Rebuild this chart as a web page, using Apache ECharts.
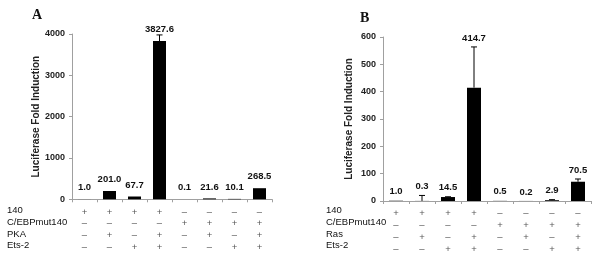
<!DOCTYPE html>
<html><head><meta charset="utf-8">
<script src="https://cdn.jsdelivr.net/npm/echarts@6/dist/echarts.min.js"></script>
<style>html,body{margin:0;padding:0;background:#fff}#c{width:600px;height:267px}</style>
</head><body><div id="c"></div>
<script>
var categories = ['1','2','3','4','5','6','7','8'];
// Panel A
var rowLabelsA = ['140','C/EBPmut140','PKA','Ets-2'];
var signsA = [
  ['+','+','+','+','–','–','–','–'],
  ['–','–','–','–','+','+','+','+'],
  ['–','+','–','+','–','+','–','+'],
  ['–','–','+','+','–','–','+','+']
];
var valuesA = [1.0, 201.0, 67.7, 3827.6, 0.1, 21.6, 10.1, 268.5];
var errA    = [0, 0, 0, 150, 0, 0, 0, 0];
var yTicksA = {min:0, max:4000, interval:1000};
// Panel B
var rowLabelsB = ['140','C/EBPmut140','Ras','Ets-2'];
var signsB = [
  ['+','+','+','+','–','–','–','–'],
  ['–','–','–','–','+','+','+','+'],
  ['–','+','–','+','–','+','–','+'],
  ['–','–','+','+','–','–','+','+']
];
var valuesB = [1.0, 0.3, 14.5, 414.7, 0.5, 0.2, 2.9, 70.5];
var errB    = [0, 20, 1, 149, 0, 0, 2, 10];
var yTicksB = {min:0, max:600, interval:100};
var yName = 'Luciferase Fold Induction';

var chart = echarts.init(document.getElementById('c'), null, {renderer:'canvas'});
var axisGray = '#a0a0a0';
var LH = 11.7;

function xAxisFor(gi, signs){
  return {
    type:'category', gridIndex:gi, data:categories,
    axisLine:{lineStyle:{color:axisGray, width:1}},
    axisTick:{show:true, length:3, lineStyle:{color:axisGray}, alignWithLabel:false},
    axisLabel:{
      margin:7, fontSize:9.5, color:'#555', fontFamily:'Arial, Liberation Sans', lineHeight:LH,
      formatter:function(v, i){ return signs.map(function(r){return r[i];}).join('\n'); }
    }
  };
}
function yAxisFor(gi, t, gap){
  return {
    type:'value', gridIndex:gi, min:t.min, max:t.max, interval:t.interval,
    name:yName, nameLocation:'middle', nameGap:gap, nameRotate:90,
    nameTextStyle:{fontSize:10, fontWeight:'bold', color:'#222', fontFamily:'Arial, Liberation Sans'},
    axisLine:{show:true, lineStyle:{color:axisGray}},
    axisTick:{show:true, length:3, lineStyle:{color:axisGray}},
    splitLine:{show:false},
    axisLabel:{margin:7, fontSize:9, fontWeight:'bold', color:'#222', fontFamily:'Arial, Liberation Sans',
      formatter:function(v){ return String(v); }}
  };
}
function errSeries(xi, yi, vals, errs, labelOnErr, off){
  return {
    type:'custom', xAxisIndex:xi, yAxisIndex:yi, z:5,
    data: vals.map(function(v,i){ return [i, v, errs[i]]; }),
    renderItem:function(params, api){
      var i = api.value(0), v = api.value(1), e = api.value(2);
      var base = api.coord([i, v]);
      var top = api.coord([i, v + e]);
      var children = [];
      if (e > 0) {
        children.push({type:'line', shape:{x1:base[0], y1:base[1], x2:top[0], y2:top[1]}, style:{stroke:'#000', lineWidth:1}});
        children.push({type:'line', shape:{x1:top[0]-3, y1:top[1], x2:top[0]+3, y2:top[1]}, style:{stroke:'#000', lineWidth:1}});
      }
      var ly = (labelOnErr ? top[1] : base[1]) - off;
      children.push({type:'text', style:{x:base[0], y:ly, text:v.toFixed(1), fill:'#111',
        font:'bold 9.5px Arial, "Liberation Sans"', textAlign:'center', textVerticalAlign:'middle'}});
      return {type:'group', children:children};
    }
  };
}
function rowTexts(x, labels){
  return labels.map(function(t, k){
    return {type:'text', left:x, top:205.5 + k*LH, style:{text:t, fill:'#111', font:'9.5px Arial, "Liberation Sans"'}};
  });
}

var option = {
  animation:false,
  grid:[
    {left:72, width:200, top:34, height:165.3},
    {left:383, width:208, top:37, height:164}
  ],
  xAxis:[ xAxisFor(0, signsA), xAxisFor(1, signsB) ],
  yAxis:[ yAxisFor(0, yTicksA, 28), yAxisFor(1, yTicksB, 29) ],
  graphic: [
    {type:'text', left:32, top:8, style:{text:'A', font:'bold 14px "Liberation Serif", "Times New Roman", serif', fill:'#111'}},
    {type:'text', left:360, top:11, style:{text:'B', font:'bold 14px "Liberation Serif", "Times New Roman", serif', fill:'#111'}}
  ].concat(rowTexts(7, rowLabelsA)).concat(rowTexts(326, rowLabelsB)),
  series:[
    {type:'bar', xAxisIndex:0, yAxisIndex:0, data:valuesA, barWidth:13, itemStyle:{color:'#000'}},
    errSeries(0, 0, valuesA, errA, false, 11.5),
    {type:'bar', xAxisIndex:1, yAxisIndex:1, data:valuesB, barWidth:14, itemStyle:{color:'#000'}},
    errSeries(1, 1, valuesB, errB, true, 9)
  ]
};
chart.setOption(option);
</script></body></html>
